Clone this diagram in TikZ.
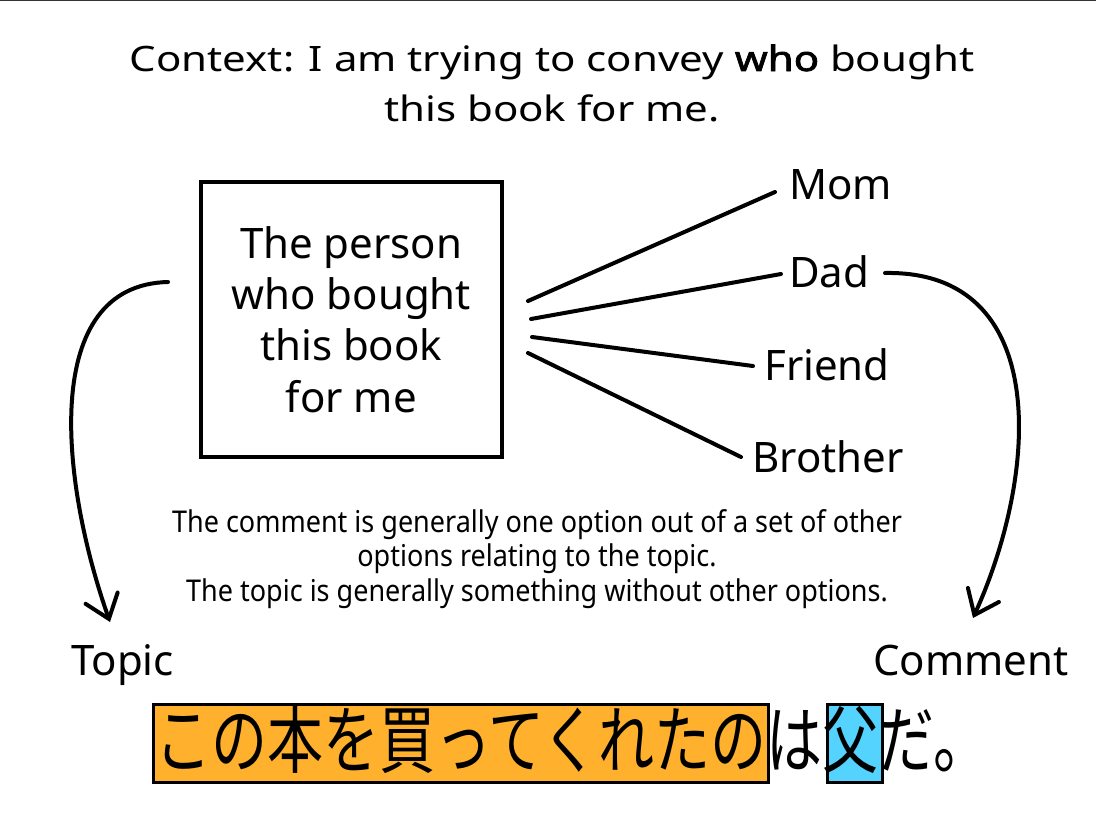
\documentclass[tikz,border=0pt]{standalone}
\usepackage{fontspec}
\setmainfont{Noto Sans}
\newfontfamily\cjkn[FakeStretch=0.757]{Noto Sans CJK JP}
\newfontfamily\narrow[FakeStretch=0.9]{Noto Sans}
\newfontfamily\wide[FakeStretch=1.2]{Noto Sans}
\newfontfamily\widebold[FakeStretch=1.2,FakeBold=2.2]{Noto Sans}
\usetikzlibrary{arrows.meta,calc}
\definecolor{orangehl}{HTML}{FFB12E}
\definecolor{bluehl}{HTML}{55D3FF}
\begin{document}
\begin{tikzpicture}[x=1pt,y=-1pt,
  big/.style={font=\fontsize{42}{51.3}\selectfont, inner sep=0pt},
  option/.style={big, anchor=base west},
  spoke/.style={line width=4pt, line cap=round},
  curvearrow/.style={line width=4pt, line cap=round, line join=round,
    -{Straight Barb[length=22pt,width=34pt,line cap=round]}},
  hlbox/.style={draw, line width=3pt, inner sep=0pt}
]
\useasboundingbox (0,0) rectangle (1096,822);
\fill[white] (0,0) rectangle (1096,822);
\draw[line width=1.6pt, black!80] (0,0.6) -- (1096,0.6);

% title
\node[font=\wide\fontsize{35}{50}\selectfont, align=center, anchor=base, inner sep=0pt] (title) at (552,121)
  {Context: I am trying to convey {\widebold who} bought\\this book for me.};

% topic box
\node[big, draw, line width=4pt, minimum width=300.5pt, minimum height=275pt, align=center]
  (person) at (351.25,319.5) {The person\\who bought\\this book\\for me};

% options
\node[option] (mom) at (789,199) {Mom};
\node[option] (dad) at (789,287) {Dad};
\node[option] (friend) at (764,380) {Friend};
\node[option] (brother) at (752,472) {Brother};

\coordinate (s1) at (528,301); \coordinate (e1) at (775,192);
\coordinate (s2) at (531,319); \coordinate (e2) at (781,274);
\coordinate (s3) at (532,337); \coordinate (e3) at (753,366);
\coordinate (s4) at (528,353); \coordinate (e4) at (741,457);
\draw[spoke] (s1) -- (e1);
\draw[spoke] (s2) -- (e2);
\draw[spoke] (s3) -- (e3);
\draw[spoke] (s4) -- (e4);

% explanation
\node[font=\narrow\fontsize{30}{34.5}\selectfont, align=center, anchor=base, inner sep=0pt] (note) at (537,601)
  {The comment is generally one option out of a set of other\\options relating to the topic.\\The topic is generally something without other options.};

% labels
\node[option] (topic) at (71,675) {Topic};
\node[option] (comment) at (873,675) {Comment};

% curved arrows
\coordinate (la) at (168,282); \coordinate (lb) at (110,622);
\draw[curvearrow] (la) .. controls (40,285) and (60,480) .. (lb);
\coordinate (ra) at (885,273); \coordinate (rb) at (973,618);
\draw[curvearrow] (ra) .. controls (1050,270) and (1040,470) .. (rb);

% Japanese sentence
\node[hlbox, fill=orangehl, minimum width=615pt, minimum height=78pt] (jtopic) at (461,743.5) {};
\node[hlbox, fill=bluehl, minimum width=55pt, minimum height=78pt] (jcomment) at (855,743.5) {};
\node[font=\cjkn\fontsize{74}{74}\selectfont, anchor=base west, inner sep=0pt] (sentence) at (155,767.5)
  {この本を買ってくれたのは父だ。};
\end{tikzpicture}
\end{document}
